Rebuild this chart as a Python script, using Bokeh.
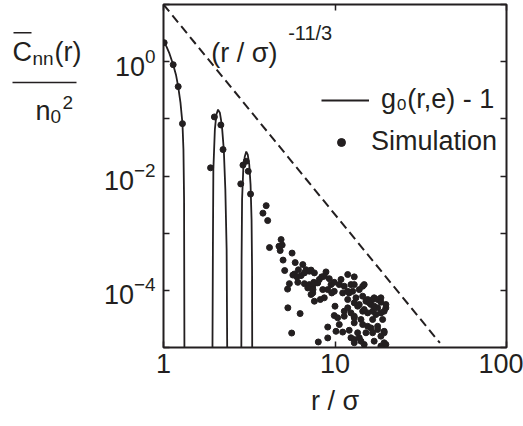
import math
from bokeh.plotting import figure
from bokeh.layouts import row
from bokeh.models import (Range1d, FixedTicker, LogTickFormatter, NumeralTickFormatter,
                          LogAxis, Legend, LegendItem, Label)
from bokeh.core.properties import value
from bokeh.embed import file_html
from bokeh.resources import INLINE

nan = float("nan")

# ---------------- data ----------------
x_ticks = [1, 10, 100]
y_ticks = [1e0, 1e-2, 1e-4]
y_minor = [1e1, 1e-1, 1e-3, 1e-5]

# theory curve g0(r,e) - 1 (three branches; NaN = break)
curve_r = [1.0, 1.041, 1.084, 1.139, 1.182, 1.218, 1.256, 1.290, 1.307, 1.318, 1.325, nan,
           1.928, 1.941, 1.953, 1.993, 2.033, 2.080, 2.131, 2.188, 2.247, 2.294, 2.334, 2.355, nan,
           2.842, 2.853, 2.872, 2.918, 2.977, 3.038, 3.099, 3.162, 3.218, 3.262, 3.284, 3.292]
curve_c = [2.24, 1.83, 1.38, 0.886, 0.593, 0.366, 0.192, 0.0824, 0.029, 0.0039, 5e-6, nan,
           5e-6, 5.2e-4, 0.0129, 0.065, 0.118, 0.145, 0.128, 0.079, 0.029, 0.0058, 5.2e-4, 5e-6, nan,
           5e-6, 3.46e-4, 0.0039, 0.0129, 0.0218, 0.0267, 0.0237, 0.0158, 0.0071, 0.00173, 2.3e-4, 5e-6]

# power law (r / sigma)^(-11/3)
power_r = [1.0, 40.9]
power_c = [10.0, 1.2e-5]

# simulation points
sim_r = [1.009, 1.139, 1.218, 1.290,
         1.881, 1.980, 2.160, 2.224,
         2.906, 3.038, 3.120, 2.822, 3.218,
         3.97, 3.80, 4.05, 4.85, 4.92, 4.71, 4.79, 4.15, 5.62, 4.98,
         5.86, 6.49, 5.09, 6.12, 6.78, 7.25, 5.80, 5.68, 5.99, 6.34,
         6.63, 7.09, 7.58, 6.07, 6.63, 7.09, 7.42, 5.42, 5.29, 7.25,
         7.58, 5.31, 6.26, 5.59, 7.99, 9.07, 10.13, 9.07, 7.42, 8.21,
         8.66, 9.57, 11.09, 12.1, 10.0, 9.9, 10.36, 11.32, 11.86, 12.39,
         11.32, 12.95, 12.95, 10.59, 11.09, 12.1, 12.95, 8.86, 8.37, 11.86,
         12.95, 7.52, 7.93, 9.26, 9.48, 9.9, 10.84, 10.59, 11.32, 12.39,
         7.44, 8.48, 9.07, 9.9, 11.86, 12.68, 8.1, 8.66, 6.94, 14.5,
         13.55, 15.5, 16.92, 18.52, 19.8, 18.95, 19.35, 19.35, 14.17, 13.85,
         14.8, 16.92, 18.52, 15.5, 16.57, 17.72, 14.5, 15.5, 16.57, 17.72,
         18.52, 16.2, 11.86, 13.25, 12.95, 14.8, 13.85, 14.5, 15.15, 16.57,
         17.72, 12.95, 13.85, 15.83, 16.92, 18.52, 19.8, 14.8, 17.32, 19.35,
         12.95, 16.57, 14.5, 16.2, 17.72, 19.35, 13.55, 15.15, 18.52, 12.95,
         14.17, 19.8, 12.39]
sim_c = [2.15, 0.886, 0.366, 0.0824,
         0.0139, 0.108, 0.0782, 0.029,
         0.0155, 0.0181, 0.0121, 0.00728, 0.00483,
         3.03e-3, 2.24e-3, 1.66e-3, 7.73e-4, 6.2e-4, 5.9e-4, 4.96e-4, 5.6e-4, 4.48e-4, 3.38e-4,
         3.06e-4, 2.82e-4, 2.22e-4, 2.29e-4, 2.29e-4, 2.26e-4, 1.93e-4, 1.85e-4, 1.72e-4, 1.81e-4,
         2.02e-4, 2.16e-4, 2.02e-4, 1.38e-4, 1.31e-4, 1.26e-4, 1.18e-4, 1.31e-4, 1.05e-4, 8.45e-5,
         6.45e-5, 4.94e-5, 3.92e-5, 1.79e-5, 1.25e-5, 1.47e-5, 1.92e-5, 2.28e-5, 9.0e-5, 6.91e-5,
         7.4e-5, 9.0e-5, 9.0e-5, 9.0e-5, 5.28e-5, 3.62e-5, 3.31e-5, 4.31e-5, 4.94e-5, 4.03e-5,
         3.52e-5, 3.31e-5, 2.70e-5, 2.52e-5, 1.86e-5, 2.0e-5, 1.38e-5, 2.1e-4, 1.72e-4, 1.89e-4,
         1.72e-4, 1.38e-4, 1.35e-4, 1.6e-4, 1.26e-4, 1.38e-4, 1.55e-4, 1.26e-4, 1.18e-4, 1.26e-4,
         1.03e-4, 1.03e-4, 1.03e-4, 9.6e-5, 9.6e-5, 9.6e-5, 1.55e-4, 1.76e-4, 1.1e-4, 1.18e-4,
         5.28e-5, 6.91e-5, 7.4e-5, 7.4e-5, 4.94e-5, 3.09e-5, 1.81e-5, 1.21e-5, 3.09e-5, 1.48e-5,
         1.13e-5, 1.29e-5, 1.06e-5, 2.35e-5, 1.81e-5, 2.35e-5, 4.31e-5, 4.03e-5, 4.31e-5, 4.94e-5,
         4.03e-5, 5.65e-5, 6.91e-5, 7.4e-5, 1.26e-4, 1.26e-4, 1.03e-4, 7.9e-5, 6.45e-5, 6.91e-5,
         6.91e-5, 6.05e-5, 5.65e-5, 6.05e-5, 5.28e-5, 6.2e-5, 5.65e-5, 4.62e-5, 3.77e-5, 4.31e-5,
         3.52e-5, 3.09e-5, 2.52e-5, 2.2e-5, 2.06e-5, 1.92e-5, 1.81e-5, 1.81e-5, 1.58e-5, 1.21e-5,
         1.29e-5, 1.13e-5, 1.48e-5]

# ---------------- styling ----------------
INK = "#231f20"
FONT = "Liberation Sans"
FS = "27px"

# ---------------- left panel: y-axis label as a fraction ----------------
pl = figure(width=100, height=426, x_range=Range1d(0, 100), y_range=Range1d(426, 0),
            x_axis_type=None, y_axis_type=None, toolbar_location=None,
            output_backend="svg", min_border=0, outline_line_color=None)
pl.xgrid.visible = False
pl.ygrid.visible = False
txt = dict(text_font=value(FONT), text_color=INK, text_baseline="alphabetic", text_align="left")
pl.text(x=[12], y=[59], text=["C"], text_font_size=FS, **txt)
pl.segment(x0=[13], y0=[35], x1=[31], y1=[35], line_color=INK, line_width=1.5)
pl.text(x=[32], y=[67], text=["nn"], text_font_size="19px", **txt)
pl.text(x=[54], y=[59], text=["(r)"], text_font_size=FS, **txt)
pl.segment(x0=[12], y0=[97], x1=[76], y1=[97], line_color=INK, line_width=1.5)
pl.text(x=[35], y=[132], text=["n"], text_font_size=FS, **txt)
pl.text(x=[50], y=[139], text=["0"], text_font_size="19px", **txt)
pl.text(x=[62], y=[122], text=["2"], text_font_size="19px", **txt)

# ---------------- main plot ----------------
p = figure(width=423, height=426, x_axis_type="log", y_axis_type="log",
           x_range=Range1d(1, 100), y_range=Range1d(1e-5, 10),
           min_border_left=62, min_border_right=17, min_border_top=4, min_border_bottom=79,
           toolbar_location=None, output_backend="svg")
p.xgrid.visible = False
p.ygrid.visible = False
p.outline_line_color = INK
p.outline_line_width = 2
p.background_fill_color = "white"

yt = FixedTicker(ticks=y_ticks, minor_ticks=y_minor)
xt = FixedTicker(ticks=x_ticks, minor_ticks=[])

xa = p.below[0]
xa.ticker = xt
xa.formatter = NumeralTickFormatter(format="0")
ya = p.left[0]
ya.ticker = yt
ya.formatter = LogTickFormatter()

for ax in (xa, ya):
    ax.axis_line_color = None
    ax.major_tick_in = 6
    ax.major_tick_out = 0
    ax.minor_tick_in = 6
    ax.minor_tick_out = 0
    ax.major_tick_line_color = INK
    ax.minor_tick_line_color = INK
    ax.major_tick_line_width = 1.5
    ax.minor_tick_line_width = 1.5
    ax.major_label_text_font = FONT
    ax.major_label_text_font_size = FS
    ax.major_label_text_color = INK
ya.major_label_standoff = 8
xa.major_label_standoff = 6
xa.axis_label = "r / σ"
xa.axis_label_text_font = FONT
xa.axis_label_text_font_size = FS
xa.axis_label_text_font_style = "normal"
xa.axis_label_text_color = INK
xa.axis_label_standoff = 10

for loc, tk in (("right", yt), ("above", xt)):
    ax = LogAxis(ticker=tk, axis_line_color=None, major_tick_in=6, major_tick_out=0,
                 minor_tick_in=6, minor_tick_out=0, major_tick_line_color=INK,
                 minor_tick_line_color=INK, major_tick_line_width=1.5, minor_tick_line_width=1.5,
                 major_label_text_font_size="1px", major_label_text_color=None,
                 major_label_standoff=0)
    p.add_layout(ax, loc)

p.line(power_r, power_c, line_color=INK, line_width=2, line_dash="9 5")
cr = p.line(curve_r, curve_c, line_color=INK, line_width=1.8)
sr = p.scatter(sim_r, sim_c, marker="circle", size=6, fill_color=INK, line_color=INK)

p.add_layout(Label(x=1.90, y=1.44, text="(r / σ)", text_font=FONT, text_font_size=FS,
                   text_color=INK, text_baseline="alphabetic"))
p.add_layout(Label(x=5.33, y=3.21, text="-11/3", text_font=FONT, text_font_size="20px",
                   text_color=INK, text_baseline="alphabetic"))

common = dict(border_line_color=None, background_fill_alpha=0, padding=0, margin=0,
              label_text_font=FONT, label_text_font_size=FS, label_text_color=INK,
              glyph_height=30, label_height=30)
leg1 = Legend(items=[LegendItem(label="g₀(r,e) - 1", renderers=[cr])], location=(158, 232),
              glyph_width=48, label_standoff=12, **common)
leg2 = Legend(items=[LegendItem(label="Simulation", renderers=[sr])], location=(168, 190),
              glyph_width=20, label_standoff=20, **common)
p.add_layout(leg1, "center")
p.add_layout(leg2, "center")

layout = row(pl, p)
open("out.html", "w").write(file_html(layout, INLINE))
